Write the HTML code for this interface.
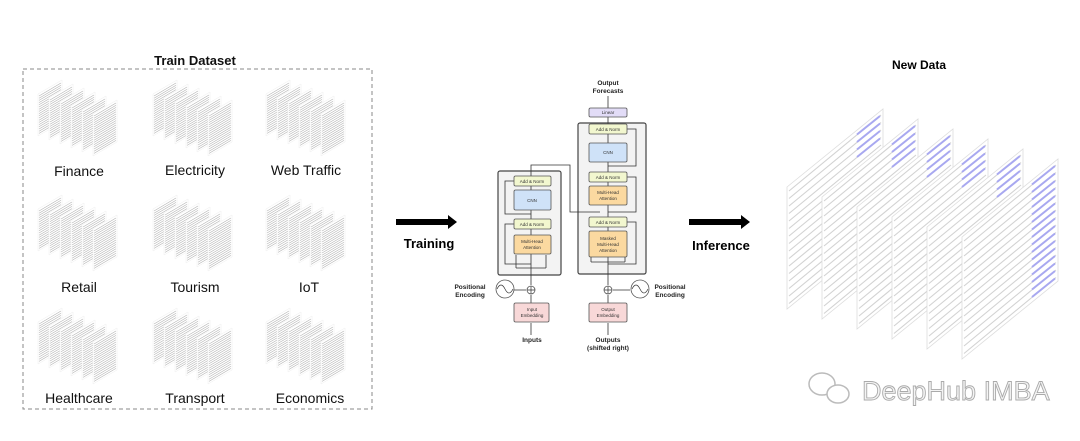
<!DOCTYPE html>
<html><head><meta charset="utf-8"><style>
html,body{margin:0;padding:0;background:#fff;width:1080px;height:441px;overflow:hidden}
svg{display:block}
text{font-family:"Liberation Sans",sans-serif}
</style></head><body>
<svg id="s" width="1080" height="441" viewBox="0 0 1080 441" xmlns="http://www.w3.org/2000/svg">
<g id="icons"></g>
<text x="195" y="65" font-size="13" font-weight="bold" text-anchor="middle" fill="#111">Train Dataset</text>
<rect x="23" y="69" width="349" height="340" fill="none" stroke="#888" stroke-dasharray="4,3" stroke-width="1"/>
<g font-size="14" fill="#111" text-anchor="middle">
<text x="79" y="176">Finance</text><text x="195" y="175">Electricity</text><text x="306" y="175">Web Traffic</text>
<text x="79" y="292">Retail</text><text x="195" y="292">Tourism</text><text x="309" y="292">IoT</text>
<text x="79" y="403">Healthcare</text><text x="195" y="403">Transport</text><text x="310" y="403">Economics</text>
</g>
<polygon points="396,219 448,219 448,215 457,222 448,229 448,225 396,225" fill="#000"/>
<text x="429" y="248" font-size="13" font-weight="bold" text-anchor="middle">Training</text>
<polygon points="689,219 741,219 741,215 750,222 741,229 741,225 689,225" fill="#000"/>
<text x="721" y="250" font-size="13" font-weight="bold" text-anchor="middle">Inference</text>
<text x="919" y="69" font-size="12" font-weight="bold" text-anchor="middle">New Data</text>

<g stroke="#333" stroke-width="0.8" fill="none">
<rect x="498" y="171" width="63" height="104" rx="2" fill="#f3f3f3" stroke="#444" stroke-width="1.2"/>
<rect x="578" y="123" width="68" height="151" rx="2" fill="#f3f3f3" stroke="#444" stroke-width="1.2"/>
<line x1="531" y1="303" x2="531" y2="295"/>
<line x1="531" y1="285" x2="531" y2="176"/>
<line x1="608" y1="303" x2="608" y2="295"/>
<line x1="608" y1="285" x2="608" y2="117"/>
<line x1="608" y1="108" x2="608" y2="96"/>
<polyline points="531,176 531,165 570,165 570,212 600,212"/>
<polyline points="516,268 546,268"/><line x1="516" y1="268" x2="516" y2="255"/><line x1="546" y1="268" x2="546" y2="255"/>
<polyline points="531,264 505,264 505,224 514,224"/>
<polyline points="531,214 505,214 505,181 514,181"/>
<polyline points="608,264 636,264 636,222 627,222"/>
<polyline points="591,262 625,262"/><line x1="591" y1="262" x2="591" y2="257"/><line x1="625" y1="262" x2="625" y2="257"/>
<polyline points="608,212 636,212 636,177 627,177"/>
<polyline points="608,166 636,166 636,129 627,129"/>
<line x1="497" y1="290" x2="526" y2="290"/>
<line x1="613" y1="290" x2="630" y2="290"/>
<line x1="531" y1="335" x2="531" y2="323"/>
<line x1="608" y1="335" x2="608" y2="323"/>
</g>
<g font-size="4.5" text-anchor="middle" fill="#333" stroke="#555" stroke-width="0.8">
<rect x="514" y="176" width="37" height="10" rx="1.5" fill="#f2f7cf"/>
<rect x="514" y="190" width="37" height="20" rx="1.5" fill="#cfe2f8"/>
<rect x="514" y="219" width="37" height="10" rx="1.5" fill="#f2f7cf"/>
<rect x="514" y="235" width="37" height="19" rx="1.5" fill="#fbd9a0"/>
<rect x="589" y="108" width="38" height="9" rx="1.5" fill="#e2dcf7"/>
<rect x="589" y="124" width="38" height="10" rx="1.5" fill="#f2f7cf"/>
<rect x="589" y="143" width="38" height="19" rx="1.5" fill="#cfe2f8"/>
<rect x="589" y="172" width="38" height="10" rx="1.5" fill="#f2f7cf"/>
<rect x="589" y="186" width="38" height="19" rx="1.5" fill="#fbd9a0"/>
<rect x="589" y="217" width="38" height="10" rx="1.5" fill="#f2f7cf"/>
<rect x="589" y="231" width="38" height="26" rx="1.5" fill="#fbd9a0"/>
<rect x="514" y="303" width="35" height="19" rx="1.5" fill="#f8d8d8"/>
<rect x="589" y="303" width="38" height="19" rx="1.5" fill="#f8d8d8"/>
<circle cx="531" cy="290" r="4" fill="#fff"/><circle cx="608" cy="290" r="4" fill="#fff"/>
<circle cx="505" cy="289" r="9" fill="#fff"/><circle cx="640" cy="289" r="9" fill="#fff"/>
</g>
<g stroke="#333" stroke-width="0.7" fill="none">
<path d="M527,290 h8 M531,286 v8 M604,290 h8 M608,286 v8"/>
<path d="M497,289 q4,-8 8,0 t8,0"/><path d="M632,289 q4,-8 8,0 t8,0"/>
</g>
<g font-size="4.5" text-anchor="middle" fill="#333">
<text x="532" y="183">Add &amp; Norm</text><text x="532" y="202">CNN</text><text x="532" y="226">Add &amp; Norm</text>
<text x="532" y="243">Multi-Head</text><text x="532" y="249">Attention</text>
<text x="608" y="114">Linear</text><text x="608" y="131">Add &amp; Norm</text><text x="608" y="154">CNN</text>
<text x="608" y="179">Add &amp; Norm</text><text x="608" y="194">Multi-Head</text><text x="608" y="200">Attention</text>
<text x="608" y="224">Add &amp; Norm</text><text x="608" y="240">Masked</text><text x="608" y="246">Multi-Head</text><text x="608" y="252">Attention</text>
<text x="532" y="311">Input</text><text x="532" y="317">Embedding</text>
<text x="608" y="311">Output</text><text x="608" y="317">Embedding</text>
</g>
<g font-size="6.5" font-weight="bold" text-anchor="middle" fill="#222">
<text x="608" y="85">Output</text><text x="608" y="93">Forecasts</text>
<text x="470" y="289">Positional</text><text x="470" y="297">Encoding</text>
<text x="670" y="289">Positional</text><text x="670" y="297">Encoding</text>
<text x="532" y="342">Inputs</text>
<text x="608" y="342">Outputs</text><text x="608" y="350">(shifted right)</text>
</g>
<g id="big"></g>
<g fill="#fff" stroke="#bbb" stroke-width="1.5">
<ellipse cx="822" cy="384" rx="13" ry="11"/><ellipse cx="838" cy="394" rx="11" ry="9"/>
</g>
<text x="862" y="400" font-size="27" fill="#f4f4f4" stroke="#aaa" stroke-width="0.9">DeepHub IMBA</text>
</svg>
<script>
var NS="http://www.w3.org/2000/svg";
function el(p,t,a){var e=document.createElementNS(NS,t);for(var k in a)e.setAttribute(k,a[k]);p.appendChild(e);return e;}
var ic=document.getElementById('icons');
var pos=[[38,80],[153,80],[266,80],[38,195],[153,195],[266,195],[38,308],[153,308],[266,308]];
pos.forEach(function(p){
 for(var i=0;i<6;i++){
  var x=p[0]+i*11,y=p[1]+14+i*4,w=24,r=14,h=42;
  el(ic,'polygon',{points:x+','+y+' '+(x+w)+','+(y-r)+' '+(x+w)+','+(y-r+h)+' '+x+','+(y+h),fill:'#fff',stroke:'#eee','stroke-width':0.5});
  for(var j=2;j<h-1;j+=2.2){
   el(ic,'line',{x1:x+1,y1:y+j,x2:x+w-1,y2:y+j-r+1,stroke:'#b4b4b4','stroke-width':0.6});
  }
 }
});
var bg=document.getElementById('big');
for(var i=0;i<6;i++){
 var x=787+i*35,y=187+i*10,w=96,r=78,h=122;
 el(bg,'polygon',{points:x+','+y+' '+(x+w)+','+(y-r)+' '+(x+w)+','+(y-r+h)+' '+x+','+(y+h),fill:'#fff',stroke:'#ddd','stroke-width':0.8});
 for(var j=4;j<h-2;j+=7.5){
  el(bg,'line',{x1:x+2,y1:y+j,x2:x+w-2,y2:y+j-r+2,stroke:'#d2d2d2','stroke-width':1.1});
  if(j<28||i==5) el(bg,'line',{x1:x+w-26,y1:y+j-r+2+(24*r/w),x2:x+w-3,y2:y+j-r+3,stroke:'#a8a8f0','stroke-width':2});
 }
}
</script>
</body></html>
